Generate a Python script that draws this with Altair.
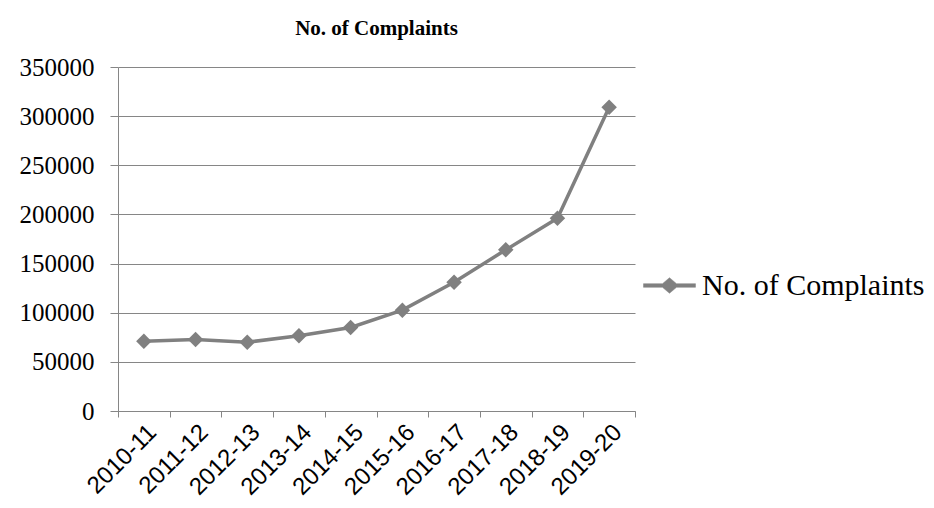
import altair as alt
import pandas as pd

years = ["2010-11", "2011-12", "2012-13", "2013-14", "2014-15",
         "2015-16", "2016-17", "2017-18", "2018-19", "2019-20"]
complaints = [71000, 72700, 70000, 76500, 85000, 102600, 131000, 164000, 196000, 309000]
y_ticks = [0, 50000, 100000, 150000, 200000, 250000, 300000, 350000]
series = "No. of Complaints"

df = pd.DataFrame({
    "year": years,
    "idx": list(range(len(years))),
    "value": complaints,
    "series": [series] * len(years),
})

n = len(years)
tick_vals = [i - 0.5 for i in range(n + 1)]
label_vals = list(range(n))
cats_js = "[" + ",".join("'" + y + "'" for y in years) + "]"
label_expr = f"{cats_js}[round(datum.value)]"

GREY = "#808080"
GRID = "#868686"

x_scale = alt.Scale(domain=[-0.5, n - 0.5], nice=False, zero=False)
y_scale = alt.Scale(domain=[0, 350000], nice=False)

y_axis = alt.Axis(
    values=y_ticks,
    format="d",
    labelFont="Liberation Serif",
    labelFontSize=25,
    labelColor="#000000",
    labelPadding=16,
    tickSize=8,
    tickColor=GRID,
    domainColor=GRID,
    gridColor=GRID,
    title=None,
)

x_label_axis = alt.Axis(
    values=label_vals,
    labelExpr=label_expr,
    labelAngle=315,
    labelFont="Liberation Sans",
    labelFontSize=24,
    labelColor="#000000",
    labelPadding=9,
    labelOverlap=False,
    labelFlush=False,
    ticks=False,
    domain=False,
    grid=False,
    orient="bottom",
    title=None,
)

x_tick_axis = alt.Axis(
    values=tick_vals,
    labels=False,
    tickSize=6,
    tickColor=GRID,
    domainColor=GRID,
    grid=False,
    orient="bottom",
    title=None,
)

legend_path = ("M-1,-0.07L-0.27,-0.07L0,-0.3L0.27,-0.07L1,-0.07L1,0.07"
               "L0.27,0.07L0,0.3L-0.27,0.07L-1,0.07Z")

line = alt.Chart(df).mark_line(strokeWidth=3.5, color=GREY).encode(
    x=alt.X("idx:Q", scale=x_scale, axis=x_tick_axis),
    y=alt.Y("value:Q", scale=y_scale, axis=y_axis),
    stroke=alt.Stroke(
        "series:N",
        scale=alt.Scale(range=[GREY]),
        legend=alt.Legend(
            title=None,
            orient="none",
            legendX=525,
            legendY=192,
            symbolType=legend_path,
            symbolSize=2700,
            symbolFillColor=GREY,
            symbolStrokeColor=GREY,
            symbolStrokeWidth=0.5,
            labelFont="Liberation Serif",
            labelFontSize=30,
            labelColor="#000000",
            labelOffset=6,
            labelLimit=400,
            padding=0,
        ),
    ),
)

points = alt.Chart(df).mark_point(
    shape="diamond", filled=True, size=240, color=GREY, opacity=1
).encode(
    x=alt.X("idx:Q", scale=x_scale, axis=x_label_axis),
    y=alt.Y("value:Q", scale=y_scale, axis=y_axis),
)

chart = (
    alt.layer(line, points)
    .resolve_axis(x="independent")
    .properties(
        width=517,
        height=344,
        title=alt.TitleParams(
            "No. of Complaints",
            font="Liberation Serif",
            fontSize=21,
            fontWeight="bold",
            color="#000000",
            anchor="middle",
            offset=16,
        ),
        padding={"left": 110, "top": 59, "right": 291, "bottom": 89},
        autosize=alt.AutoSizeParams(type="none"),
    )
    .configure(background="white")
    .configure_view(stroke=None)
)

chart.save("out.html", embed_options={"renderer": "svg", "actions": False})
